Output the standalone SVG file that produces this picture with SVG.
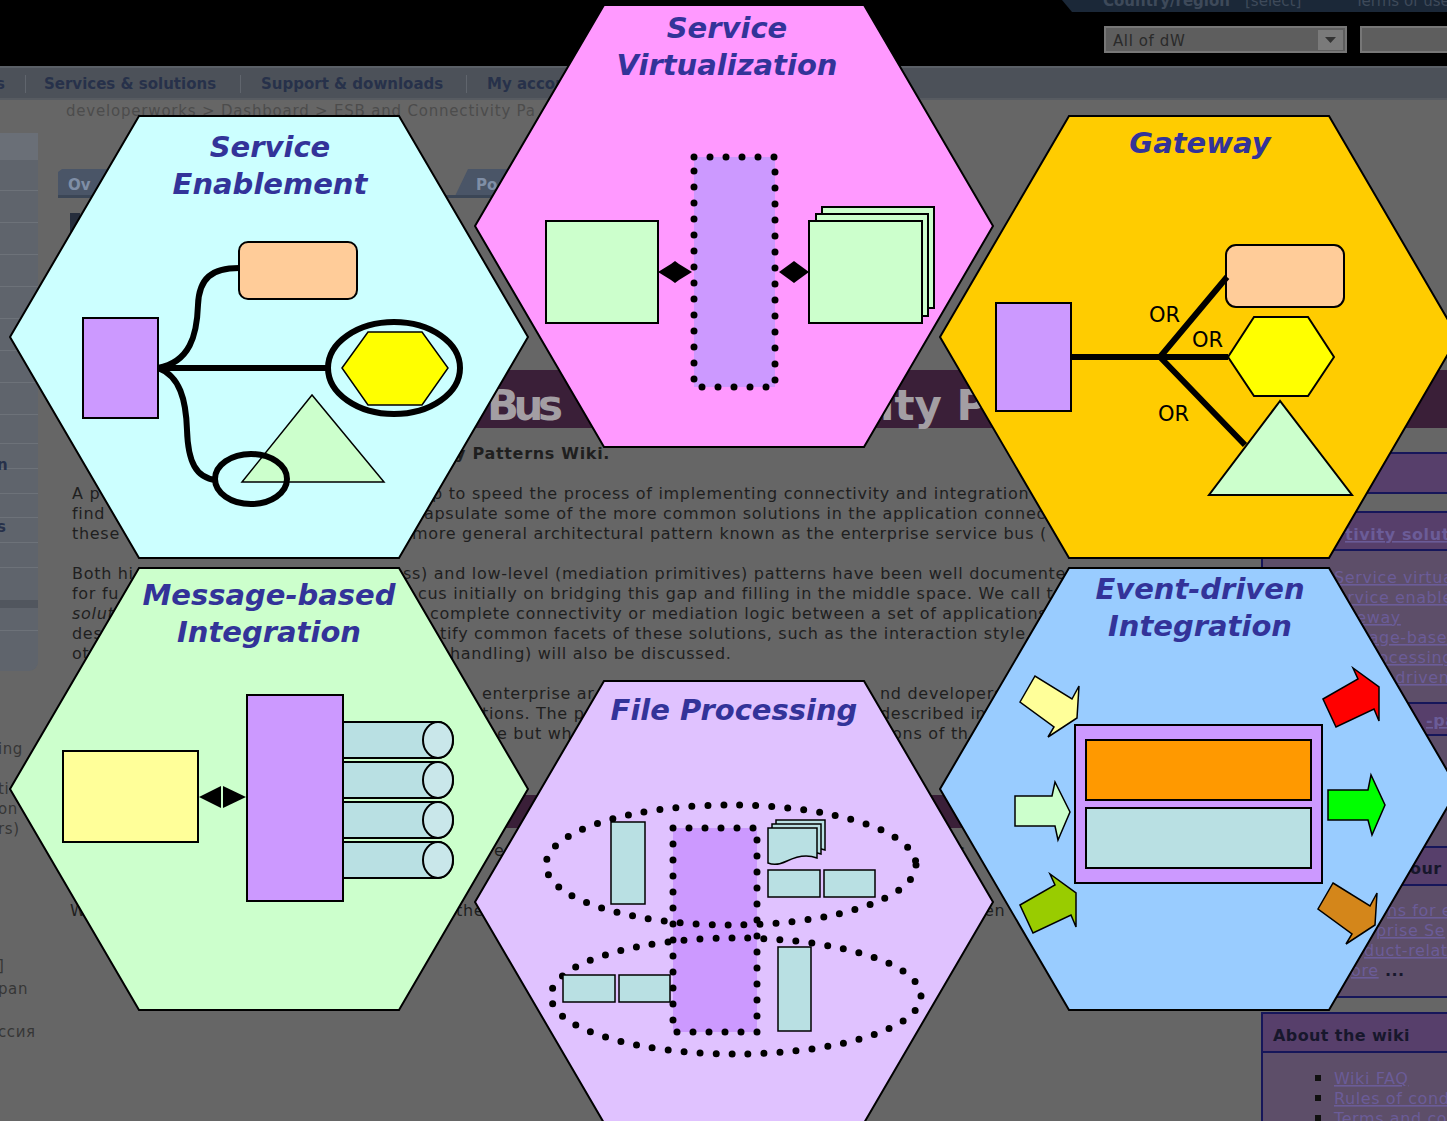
<svg xmlns="http://www.w3.org/2000/svg" width="1447" height="1121" viewBox="0 0 1447 1121">
<defs>
<style>
.hex{stroke:#000;stroke-width:2}
.title{font-family:"DejaVu Sans",Verdana,sans-serif;font-weight:bold;font-style:italic;font-size:29px;fill:#333399;text-anchor:middle}
.sh{stroke:#000;stroke-width:2}
.thin{stroke:#000;stroke-width:1.5}
.conn{fill:none;stroke:#000;stroke-width:6}
.dots{fill:none;stroke:#000;stroke-width:7;stroke-linecap:round;stroke-dasharray:0 16}
.bg{font-family:"DejaVu Sans",sans-serif;font-size:16px;fill:#1f1f1f;letter-spacing:0.7px}
.side{font-family:"DejaVu Sans",sans-serif;font-size:15px;fill:#363636;letter-spacing:0.6px}
.nav{font-family:"DejaVu Sans",sans-serif;font-size:15px;font-weight:bold;fill:#27314a}
.link{font-family:"DejaVu Sans",sans-serif;font-size:16px;fill:#6b5c98;text-decoration:underline;letter-spacing:0.6px}
.hdr{font-family:"DejaVu Sans",sans-serif;font-size:16px;font-weight:bold;fill:#17172c;letter-spacing:0.4px}
.top{font-family:"DejaVu Sans",sans-serif;font-size:15px;fill:#3e4a5a}
.or{font-family:"DejaVu Sans",sans-serif;font-size:21px;fill:#000}
.cyl{fill:#B9E0E3;stroke:#000;stroke-width:2}
.cylend{fill:#C9E7EA;stroke:#000;stroke-width:2}
.doc{fill:#B9E0E3;stroke:#000;stroke-width:1.5}
.arr{stroke:#000;stroke-width:1.5;stroke-linejoin:miter}
</style>
</defs>

<g id="background">
<rect width="1447" height="1121" fill="#666"/>
<rect width="1447" height="66" fill="#000"/>
<polygon points="1062,0 1447,0 1447,12 1072,12" fill="#1b2838"/>
<text class="top" x="1103" y="6" font-weight="bold" fill="#4a5668">Country/region</text>
<text class="top" x="1245" y="6">[select]</text>
<text class="top" x="1355" y="6">Terms of use</text>
<rect x="1105" y="27" width="241" height="25" fill="#5e5e5e" stroke="#777" stroke-width="2"/>
<text x="1113" y="46" font-family="DejaVu Sans,sans-serif" font-size="15" fill="#2a2a2a" letter-spacing="0.6">All of dW</text>
<rect x="1318" y="30" width="25" height="20" fill="#7a7a7a"/>
<polygon points="1325,37 1336,37 1330.5,43" fill="#333"/>
<rect x="1361" y="27" width="90" height="25" fill="#5e5e5e" stroke="#777" stroke-width="2"/>
<rect y="66" width="1447" height="33" fill="#4c5159"/>
<rect y="66" width="1447" height="2" fill="#5a5f66"/>
<rect y="98" width="1447" height="2" fill="#575b61"/>
<text class="nav" x="-4" y="89">s</text>
<rect x="25" y="75" width="1" height="18" fill="#60656d"/>
<text class="nav" x="44" y="89">Services &amp; solutions</text>
<rect x="240" y="75" width="1" height="18" fill="#60656d"/>
<text class="nav" x="261" y="89">Support &amp; downloads</text>
<rect x="466" y="75" width="1" height="18" fill="#60656d"/>
<text class="nav" x="487" y="89">My account</text>
<text x="66" y="116" font-family="DejaVu Sans,sans-serif" font-size="15" fill="#4c4c4c" letter-spacing="0.8">developerworks &gt; Dashboard &gt; ESB and Connectivity Pa</text>

<rect x="-8" y="133" width="46" height="538" rx="9" fill="#5f646c"/>
<rect x="0" y="133" width="38" height="27" fill="#6a6f77"/>
<g fill="#6d7279">
<rect x="0" y="190" width="38" height="1"/><rect x="0" y="222" width="38" height="1"/>
<rect x="0" y="254" width="38" height="1"/><rect x="0" y="286" width="38" height="1"/>
<rect x="0" y="318" width="38" height="1"/><rect x="0" y="350" width="38" height="1"/>
<rect x="0" y="382" width="38" height="1"/><rect x="0" y="414" width="38" height="1"/>
<rect x="0" y="443" width="38" height="1"/><rect x="0" y="468" width="38" height="1"/>
<rect x="0" y="493" width="38" height="1"/><rect x="0" y="517" width="38" height="1"/>
<rect x="0" y="542" width="38" height="1"/><rect x="0" y="567" width="38" height="1"/>
<rect x="0" y="630" width="38" height="1"/>
</g>
<rect x="0" y="600" width="38" height="8" fill="#51565e"/>
<text class="nav" x="-3" y="470">n</text>
<text class="nav" x="-3" y="532">s</text>

<polygon points="58,196 58,172 62,169 130,169 140,196" fill="#4a5567"/>
<text x="68" y="190" font-family="DejaVu Sans,sans-serif" font-size="15" font-weight="bold" fill="#7f8ea6">Ov</text>
<polygon points="455,196 468,169 540,169 540,196" fill="#4a5567"/>
<text x="476" y="190" font-family="DejaVu Sans,sans-serif" font-size="15" font-weight="bold" fill="#7f8ea6">Po</text>
<rect x="58" y="195" width="480" height="3" fill="#3b4656"/>
<rect x="70" y="213" width="10" height="22" fill="#262d3c"/>

<rect x="420" y="370" width="1027" height="58" fill="#3a1f38"/>
<text x="487" y="420" font-family="DejaVu Sans,sans-serif" font-size="42" font-weight="bold" fill="#a39ea3" textLength="76">Bus</text>
<text x="880" y="420" font-family="DejaVu Sans,sans-serif" font-size="42" font-weight="bold" fill="#a39ea3">ity P</text>

<text x="455" y="459" class="bg" font-weight="bold" fill="#161616" letter-spacing="0.3">y Patterns Wiki.</text>
<text class="bg" x="72" y="499">A p</text>
<text class="bg" x="72" y="519">find</text>
<text class="bg" x="72" y="539">these</text>
<text class="bg" x="432" y="499">p to speed the process of implementing connectivity and integration</text>
<text class="bg" x="424" y="519">apsulate some of the more common solutions in the application connec</text>
<text class="bg" x="412" y="539">more general architectural pattern known as the enterprise service bus (</text>
<text class="bg" x="72" y="579">Both hi</text>
<text class="bg" x="72" y="599">for fu</text>
<text class="bg" x="72" y="619" font-style="italic">solut</text>
<text class="bg" x="72" y="639">des</text>
<text class="bg" x="72" y="659">ot</text>
<text class="bg" x="403" y="579">ss) and low-level (mediation primitives) patterns have been well documente</text>
<text class="bg" x="418" y="599">cus initially on bridging this gap and filling in the middle space. We call t</text>
<text class="bg" x="430" y="619">complete connectivity or mediation logic between a set of applications</text>
<text class="bg" x="440" y="639">tify common facets of these solutions, such as the interaction style</text>
<text class="bg" x="450" y="659">handling) will also be discussed.</text>
<text class="bg" x="482" y="699">enterprise ar</text>
<text class="bg" x="482" y="719">tions. The p</text>
<text class="bg" x="497" y="739">e but wh</text>
<text class="bg" x="880" y="699">nd developers</text>
<text class="bg" x="880" y="719">described in</text>
<text class="bg" x="880" y="739">tions of th</text>
<rect x="430" y="795" width="580" height="33" fill="#3a1f38"/>
<text class="bg" x="494" y="856">e</text>
<text class="bg" x="956" y="856">c</text>
<text class="bg" x="456" y="916">the</text>
<text class="bg" x="984" y="916">en</text>
<text class="bg" x="70" y="916">W</text>

<text class="side" x="-2" y="754">ing</text>
<text class="side" x="-2" y="794">ti</text>
<text class="side" x="-2" y="814">on</text>
<text class="side" x="-2" y="834">rs)</text>
<text class="side" x="-2" y="971">]</text>
<text class="side" x="-2" y="994">pan</text>
<text class="side" x="-2" y="1037">ссия</text>

<rect x="1262" y="453" width="190" height="40" fill="#573f6b" stroke="#16165a" stroke-width="2"/>
<rect x="1262" y="512" width="190" height="485" fill="#5d4e69" stroke="#16165a" stroke-width="2"/>
<rect x="1262" y="512" width="190" height="38" fill="#573f6b" stroke="#16165a" stroke-width="2"/>
<text class="link" x="1345" y="540" font-weight="bold">tivity solutions</text>
<text class="link" x="1334" y="583">Service virtualization</text>
<text class="link" x="1326" y="603">Service enablement</text>
<text class="link" x="1326" y="623">Gateway</text>
<text class="link" x="1326" y="643">Message-based</text>
<text class="link" x="1326" y="663">File processing</text>
<text class="link" x="1340" y="683">Event-driven</text>
<rect x="1262" y="703" width="190" height="32" fill="#573f6b" stroke="#16165a" stroke-width="2"/>
<text class="link" x="1426" y="726" font-weight="bold">-pa</text>
<rect x="1262" y="847" width="190" height="38" fill="#573f6b" stroke="#16165a" stroke-width="2"/>
<text class="hdr" x="1410" y="874">our</text>
<text class="link" x="1387" y="916">ns for e</text>
<text class="link" x="1376" y="936">prise Se</text>
<text class="link" x="1364" y="956">duct-relat</text>
<text x="1351" y="976" class="link">ore</text>
<text x="1385" y="976" class="hdr" font-weight="normal">...</text>
<rect x="1262" y="1013" width="190" height="120" fill="#5d4e69" stroke="#16165a" stroke-width="2"/>
<rect x="1262" y="1013" width="190" height="39" fill="#573f6b" stroke="#16165a" stroke-width="2"/>
<text class="hdr" x="1273" y="1041">About the wiki</text>
<rect x="1315" y="1075" width="6" height="6" fill="#111"/>
<rect x="1315" y="1095" width="6" height="6" fill="#111"/>
<rect x="1315" y="1115" width="6" height="6" fill="#111"/>
<text class="link" x="1334" y="1084">Wiki FAQ</text>
<text class="link" x="1334" y="1104">Rules of conduct</text>
<text class="link" x="1334" y="1124">Terms and conditions</text>
</g>

<g id="service-enablement">
<polygon class="hex" points="10,337 139,116 399,116 528,337 399,558 139,558" fill="#CCFFFF"/>
<text class="title" x="270" y="157">Service</text>
<text class="title" x="270" y="194">Enablement</text>
<rect class="sh" x="83" y="318" width="75" height="100" fill="#CC99FF"/>
<rect class="sh" x="239" y="242" width="118" height="57" rx="9" fill="#FFCC99"/>
<polygon class="thin" points="342,368 368,332 422,332 448,368 422,405 368,405" fill="#FFFF00"/>
<ellipse cx="394" cy="368" rx="66" ry="46" fill="none" stroke="#000" stroke-width="6"/>
<polygon class="thin" points="312,395 242,482 384,482" fill="#CCFFCC"/>
<ellipse cx="251" cy="479" rx="36" ry="25" fill="none" stroke="#000" stroke-width="6"/>
</g>

<g id="service-virtualization">
<polygon class="hex" points="475,226 604,5 864,5 993,226 864,447 604,447" fill="#FF99FF"/>
<text class="title" x="727" y="38">Service</text>
<text class="title" x="727" y="75">Virtualization</text>
<rect class="sh" x="546" y="221" width="112" height="102" fill="#CCFFCC"/>
<rect x="694" y="157" width="81" height="230" fill="#CC99FF"/>
<rect class="dots" x="694" y="157" width="81" height="230"/>
<rect class="sh" x="822" y="207" width="112" height="101" fill="#CCFFCC"/>
<rect class="sh" x="816" y="214" width="112" height="102" fill="#CCFFCC"/>
<rect class="sh" x="809" y="221" width="113" height="102" fill="#CCFFCC"/>
</g>

<g id="gateway">
<polygon class="hex" points="940,337 1069,116 1329,116 1458,337 1329,558 1069,558" fill="#FFCC00"/>
<text class="title" x="1200" y="153">Gateway</text>
<rect class="sh" x="996" y="303" width="75" height="108" fill="#CC99FF"/>
<rect class="sh" x="1226" y="245" width="118" height="62" rx="10" fill="#FFCC99"/>
<polygon class="sh" points="1228,357 1254,317 1308,317 1334,357 1308,396 1254,396" fill="#FFFF00"/>
<polygon class="sh" points="1280,401 1209,495 1352,495" fill="#CCFFCC"/>
<text class="or" x="1149" y="322">OR</text>
<text class="or" x="1192" y="347">OR</text>
<text class="or" x="1158" y="421">OR</text>
</g>

<g id="message-based-integration">
<polygon class="hex" points="10,789 139,568 399,568 528,789 399,1010 139,1010" fill="#CCFFCC"/>
<text class="title" x="269" y="605">Message-based</text>
<text class="title" x="269" y="642">Integration</text>
<rect class="sh" x="63" y="751" width="135" height="91" fill="#FFFF99"/>
<path class="cyl" d="M340,722 H438 A15,18 0 0 1 438,758 H340 Z"/>
<ellipse class="cylend" cx="438" cy="740" rx="15" ry="18"/>
<path class="cyl" d="M340,762 H438 A15,18 0 0 1 438,798 H340 Z"/>
<ellipse class="cylend" cx="438" cy="780" rx="15" ry="18"/>
<path class="cyl" d="M340,802 H438 A15,18 0 0 1 438,838 H340 Z"/>
<ellipse class="cylend" cx="438" cy="820" rx="15" ry="18"/>
<path class="cyl" d="M340,842 H438 A15,18 0 0 1 438,878 H340 Z"/>
<ellipse class="cylend" cx="438" cy="860" rx="15" ry="18"/>
<rect class="sh" x="247" y="695" width="96" height="206" fill="#CC99FF"/>
</g>

<g id="file-processing">
<polygon class="hex" points="475,902 604,681 864,681 993,902 864,1123 604,1123" fill="#E0C2FF"/>
<text class="title" x="734" y="720">File Processing</text>
<rect x="673" y="828" width="84" height="204" fill="#CC99FF"/>
<rect class="dots" x="673" y="828" width="84" height="204"/>
<ellipse class="dots" cx="731" cy="865" rx="185" ry="60"/>
<ellipse class="dots" cx="736" cy="996" rx="185" ry="58"/>
<rect class="doc" x="611" y="822" width="34" height="82"/>
<path class="doc" d="M776,820 h49 v30 c-10,-4 -20,-2 -30,3 c-8,4 -14,4 -19,2 z"/>
<path class="doc" d="M772,824 h49 v30 c-10,-4 -20,-2 -30,3 c-8,4 -14,4 -19,2 z"/>
<path class="doc" d="M768,828 h49 v30 c-10,-4 -20,-2 -30,3 c-8,4 -14,4 -19,2 z"/>
<rect class="doc" x="768" y="870" width="52" height="27"/>
<rect class="doc" x="824" y="870" width="51" height="27"/>
<rect class="doc" x="563" y="975" width="52" height="27"/>
<rect class="doc" x="619" y="975" width="51" height="27"/>
<rect class="doc" x="778" y="947" width="33" height="84"/>
</g>

<g id="event-driven-integration">
<polygon class="hex" points="940,789 1069,568 1329,568 1458,789 1329,1010 1069,1010" fill="#99CCFF"/>
<text class="title" x="1200" y="599">Event-driven</text>
<text class="title" x="1200" y="636">Integration</text>
<rect class="sh" x="1075" y="725" width="247" height="158" fill="#CC99FF"/>
<rect class="sh" x="1086" y="740" width="225" height="60" fill="#FF9900"/>
<rect class="sh" x="1086" y="808" width="225" height="60" fill="#B9E0E3"/>
<polygon class="arr" fill="#FFFF99" points="1020,702 1035,676 1072,699 1079,686 1077,718 1048,737 1054,727"/>
<polygon class="arr" fill="#CCFFCC" points="1015,796 1052,796 1055,782 1070,812 1058,840 1055,826 1015,826"/>
<polygon class="arr" fill="#99CC00" points="1020,905 1055,885 1050,874 1076,893 1076,927 1071,915 1033,933"/>
<polygon class="arr" fill="#FF0000" points="1323,699 1358,679 1353,668 1379,687 1379,721 1374,709 1336,727"/>
<polygon class="arr" fill="#00FF00" points="1328,790 1368,790 1371,775 1385,805 1372,835 1368,820 1328,820"/>
<polygon class="arr" fill="#D4861A" points="1333,883 1370,906 1377,893 1375,925 1346,944 1352,934 1318,909"/>
</g>

<g id="connectors">
<path class="conn" d="M158,368 H329"/>
<path class="conn" d="M158,368 C190,362 197,335 198,305 C199,278 212,268 239,268"/>
<path class="conn" d="M158,368 C180,376 186,400 187,430 C188,462 196,478 216,480"/>
<polygon fill="#000" points="658,272 671,264 675,261 679,264 692,272 679,280 675,283 671,280"/>
<polygon fill="#000" points="779,272 790,264 794,261 798,264 809,272 798,280 794,283 790,280"/>
<path class="conn" stroke-width="5" d="M1071,357 H1228 M1160,357 L1227,277 M1160,357 L1245,445"/>
<polygon fill="#000" points="199,797 221,786 221,808"/>
<polygon fill="#000" points="223,786 246,797 223,808"/>
</g>
</svg>
